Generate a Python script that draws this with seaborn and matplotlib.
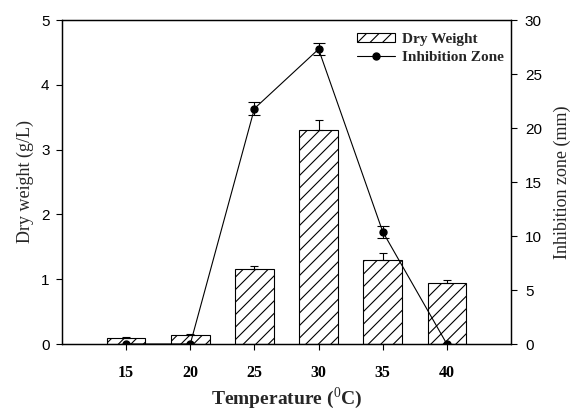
import numpy as np
import matplotlib
matplotlib.use("Agg")
import matplotlib.pyplot as plt
import seaborn as sns
from matplotlib.patches import Patch
from matplotlib.lines import Line2D
from matplotlib.backend_bases import GraphicsContextBase

temps = ["15", "20", "25", "30", "35", "40"]
dry_weight = [0.10, 0.14, 1.16, 3.31, 1.29, 0.94]
dry_err = [0.01, 0.01, 0.04, 0.15, 0.11, 0.04]
inhibition = [0.0, 0.0, 21.8, 27.3, 10.4, 0.0]
inhib_err = [0.0, 0.0, 0.6, 0.55, 0.55, 0.0]

# denser hatching than matplotlib's default (even count so the tile repeats cleanly)
_orig_hatch = GraphicsContextBase.get_hatch_path
def _hatch_path(self, density=16.0):
    return _orig_hatch(self, 16.0)
GraphicsContextBase.get_hatch_path = _hatch_path

sns.set_theme(style="ticks")
plt.rcParams["hatch.linewidth"] = 0.8
plt.rcParams["mathtext.fontset"] = "custom"
plt.rcParams["mathtext.rm"] = "Liberation Serif"
plt.rcParams["mathtext.bf"] = "Liberation Serif:bold"

fig = plt.figure(figsize=(5.74, 4.13), dpi=100)
ax = fig.add_axes([62/574, 1-344/413, (511-62)/574, (344-20)/413])

sns.barplot(x=temps, y=dry_weight, ax=ax, color="white", edgecolor="black",
            linewidth=0.8, width=0.6, hatch="/", errorbar=None)
for p in ax.patches:
    p.set_facecolor("white")
    p.set_edgecolor("black")
    p.set_hatch("/")
x = np.arange(len(temps))
ax.errorbar(x, dry_weight, yerr=[np.zeros(len(temps)), dry_err], fmt="none",
            ecolor="black", elinewidth=0.8, capsize=3, capthick=0.8)

ax.set_xlim(-1, 6)
ax.set_ylim(0, 5)
ax.set_yticks([0, 1, 2, 3, 4, 5])
ax.set_xticks(x)
ax.set_xticklabels(temps, fontfamily="Liberation Serif", fontweight="bold", fontsize=11.5)
for lab in ax.get_yticklabels():
    lab.set_fontfamily("Liberation Sans")
    lab.set_fontsize(11)
ax.tick_params(axis="y", direction="out", length=4, width=0.8, pad=5, colors="black")
ax.tick_params(axis="x", direction="out", length=4, width=0.8, pad=11, colors="black")
for s in ax.spines.values():
    s.set_linewidth(0.9)
    s.set_color("black")
ax.set_xlabel(r"Temperature ($^{\mathrm{0}}$C)", fontfamily="Liberation Serif",
              fontweight="bold", fontsize=14, labelpad=3)

ax2 = ax.twinx()
ax2.errorbar(x, inhibition, yerr=inhib_err, fmt="-o", color="black",
             markersize=5, linewidth=0.8, elinewidth=0.8, capsize=4, capthick=0.8)
ax2.set_ylim(0, 30)
ax2.set_yticks([0, 5, 10, 15, 20, 25, 30])
for lab in ax2.get_yticklabels():
    lab.set_fontfamily("Liberation Sans")
    lab.set_fontsize(11)
ax2.tick_params(axis="y", direction="out", length=4, width=0.8, pad=6, colors="black")
for s in ax2.spines.values():
    s.set_linewidth(0.9)
    s.set_color("black")

fig.text(25/574, 1-182/413, "Dry weight (g/L)", rotation=90, ha="center", va="center",
         fontfamily="Liberation Serif", fontsize=13)
fig.text(562/574, 1-182/413, "Inhibition zone (mm)", rotation=90, ha="center", va="center",
         fontfamily="Liberation Serif", fontsize=13)

handles = [Patch(facecolor="white", edgecolor="black", hatch="/", linewidth=0.8),
           Line2D([0], [0], color="black", marker="o", markersize=5, linewidth=0.8)]
leg = fig.legend(handles, ["Dry Weight", "Inhibition Zone"], loc="upper left",
                 bbox_to_anchor=(357/574, 1-33/413), frameon=False,
                 prop={"family": "Liberation Serif", "weight": "bold", "size": 11},
                 handlelength=2.5, handleheight=0.5, handletextpad=0.45,
                 labelspacing=0.35, borderpad=0, borderaxespad=0)

fig.savefig("out.png", dpi=100)
